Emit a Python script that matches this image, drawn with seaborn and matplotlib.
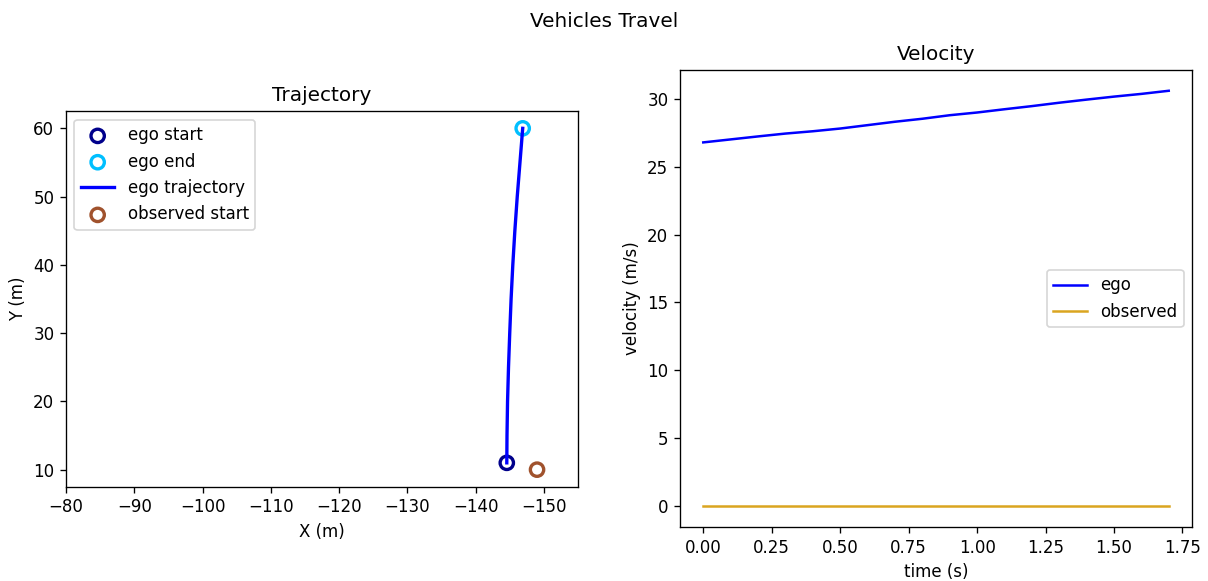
import matplotlib
matplotlib.use("Agg")
import matplotlib.pyplot as plt
import seaborn as sns
import numpy as np
import pandas as pd

# Ego trajectory (X, Y in metres)
ego_x = [-144.57, -144.60, -144.68, -144.82, -145.00, -145.20, -145.45,
         -145.75, -146.10, -146.50, -146.90]
ego_y = [11.0, 15.0, 20.0, 25.0, 30.0, 35.0, 40.0, 45.0, 50.0, 55.0, 60.0]

# Start position of the observed vehicle
obs_start_x = [-149.0]
obs_start_y = [10.0]

# Velocity profiles
time_s = [0.0, 0.1, 0.2, 0.3, 0.4, 0.5, 0.6, 0.7, 0.8, 0.9,
          1.0, 1.1, 1.2, 1.3, 1.4, 1.5, 1.6, 1.7]
ego_vel = [26.78, 27.00, 27.22, 27.43, 27.60, 27.80, 28.05, 28.30, 28.52,
           28.78, 28.98, 29.22, 29.45, 29.70, 29.93, 30.15, 30.35, 30.58]
obs_vel = [0.0] * len(time_s)

W, H, DPI = 1208, 581, 120
fig = plt.figure(figsize=(W / DPI, H / DPI), dpi=DPI)
fig.suptitle("Vehicles Travel")

ax1 = fig.add_axes([66 / W, 1 - 487 / H, 512 / W, 376 / H])
ax2 = fig.add_axes([680 / W, 1 - 527 / H, 512 / W, 457 / H])

traj = pd.DataFrame({"x": ego_x, "y": ego_y})
ring = dict(marker="o", s=64, facecolor="none", linewidth=2.0)

# Trajectory panel
sns.scatterplot(x=[ego_x[0]], y=[ego_y[0]], ax=ax1, edgecolor="darkblue",
                label="ego start", **ring)
sns.scatterplot(x=[ego_x[-1]], y=[ego_y[-1]], ax=ax1, edgecolor="deepskyblue",
                label="ego end", **ring)
sns.lineplot(data=traj, x="x", y="y", ax=ax1, sort=False, estimator=None,
             color="blue", linewidth=2, label="ego trajectory")
sns.scatterplot(x=obs_start_x, y=obs_start_y, ax=ax1, edgecolor="sienna",
                label="observed start", **ring)

ax1.set_xlim(-80, -155)
ax1.set_ylim(7.5, 62.5)
ax1.set_aspect("equal", adjustable="box")
ax1.set_title("Trajectory")
ax1.set_xlabel("X (m)")
ax1.set_ylabel("Y (m)")
ax1.legend(loc="upper left")

# Velocity panel
vel = pd.DataFrame({"t": time_s, "ego": ego_vel, "obs": obs_vel})
sns.lineplot(data=vel, x="t", y="ego", ax=ax2, color="blue",
             linewidth=1.5, label="ego")
sns.lineplot(data=vel, x="t", y="obs", ax=ax2, color="goldenrod",
             linewidth=1.5, label="observed")
ax2.set_title("Velocity")
ax2.set_xlabel("time (s)")
ax2.set_ylabel("velocity (m/s)")
ax2.legend(loc="center right")

fig.savefig("out.png", dpi=DPI)
